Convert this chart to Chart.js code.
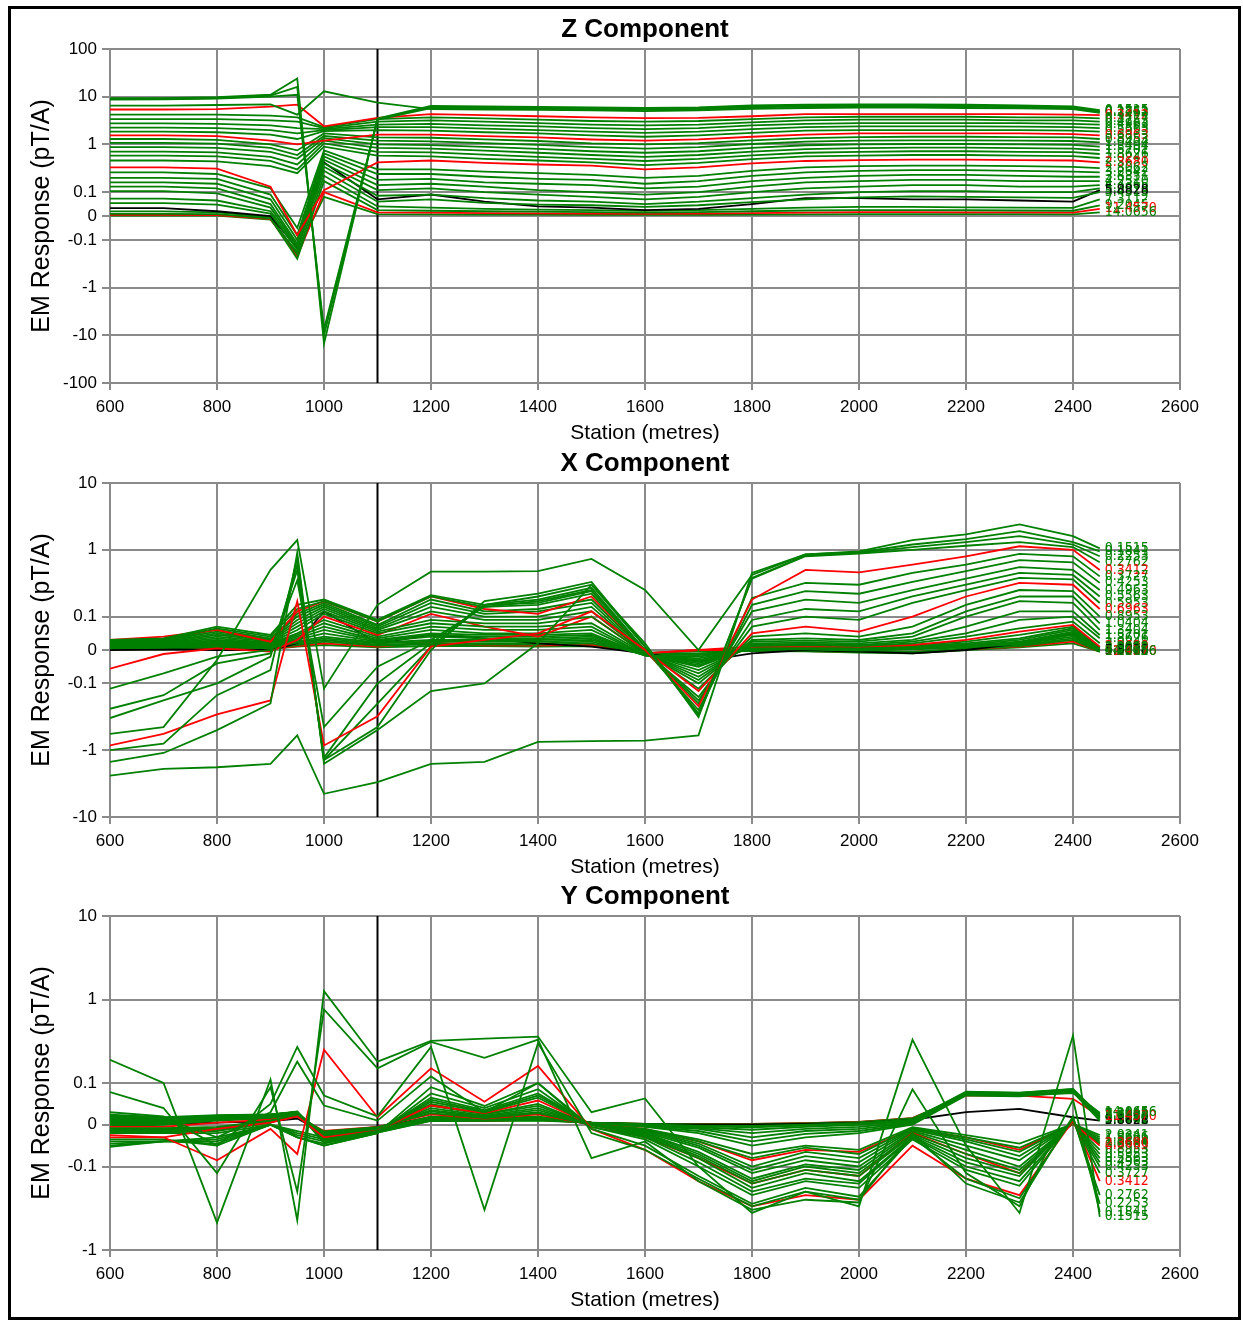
<!DOCTYPE html>
<html><head><meta charset="utf-8">
<script src="https://cdn.jsdelivr.net/npm/chart.js@4.4.1/dist/chart.umd.min.js"></script>
<style>
html,body{margin:0;padding:0;background:#fff;}
body{width:1243px;height:1321px;position:relative;overflow:hidden;}
#frame{position:absolute;left:8px;top:6px;width:1227px;height:1308px;border:3px solid #000;}
canvas{position:absolute;left:10px;width:1225px;height:434px;}
</style></head><body>
<div id="frame"></div>
<canvas id="cz" width="1225" height="434" style="top:12px"></canvas>
<canvas id="cx" width="1225" height="434" style="top:446px"></canvas>
<canvas id="cy" width="1225" height="434" style="top:879px"></canvas>
<script>
// ---------------- data ----------------
const STATIONS = [600,700,800,900,950,1000,1100,1200,1300,1400,1500,1600,1700,1800,1900,2000,2100,2200,2300,2400,2450];
const STATION_TICKS = [600,800,1000,1200,1400,1600,1800,2000,2200,2400,2600];
const MARKER_STATION = 1100;
const CHANNELS = ["0.1515","0.1841","0.2253","0.2762","0.3412","0.3727","0.4253","0.4963","0.5563","0.5953",
  "0.6963","0.8953","1.0404","1.3404","1.5701","1.8626","2.0241","2.3680","2.8062","3.2642",
  "3.8351","4.2510","4.7365","5.0078","5.4313","5.8828","7.3112","9.2045","11.4570","14.0656"];
const Z_TICKS = [100,10,1,0.1,0,-0.1,-1,-10,-100];
const X_TICKS = [10,1,0.1,0,-0.1,-1,-10];
const Y_TICKS = [10,1,0.1,0,-0.1,-1];

const Z_RESPONSE = [
[9.3,9.3,9.8,11,24,-15,3.5,6.4,6.3,6.1,6.0,5.8,6.0,6.6,6.8,6.9,6.9,6.8,6.6,6.3,5.2],
[9.0,9.0,9.4,10.5,16,-10,3.4,6.1,6.0,5.9,5.8,5.6,5.8,6.3,6.5,6.6,6.6,6.5,6.3,6.0,5.0],
[8.7,8.8,9.1,10,11,-7.5,3.3,5.8,5.7,5.6,5.5,5.3,5.5,6.0,6.2,6.3,6.3,6.2,6.0,5.8,4.8],
[6.5,6.5,6.7,6.9,4.2,13,7.5,5.5,5.4,5.3,5.2,5.0,5.2,5.6,5.8,5.9,5.9,5.8,5.7,5.5,4.6],
[5.4,5.4,5.5,6.2,6.8,2.4,3.6,4.3,4.1,3.9,3.7,3.55,3.6,3.9,4.3,4.3,4.3,4.3,4.3,4.2,4.1],
[4.2,4.2,4.2,4.0,3.7,2.3,3.4,3.7,3.5,3.3,3.1,3.0,3.1,3.4,3.7,3.8,3.8,3.8,3.7,3.7,3.5],
[3.4,3.4,3.4,3.2,3.0,2.2,3.0,3.2,3.0,2.8,2.6,2.5,2.6,2.9,3.2,3.3,3.3,3.3,3.2,3.2,3.0],
[2.75,2.75,2.7,2.5,2.2,2.1,2.6,2.7,2.5,2.4,2.2,2.1,2.2,2.5,2.7,2.8,2.8,2.8,2.8,2.7,2.6],
[2.25,2.25,2.2,2.0,1.7,2.0,2.3,2.3,2.15,2.0,1.85,1.75,1.85,2.1,2.3,2.4,2.4,2.4,2.35,2.3,2.2],
[1.86,1.85,1.8,1.6,1.3,1.9,2.0,1.95,1.8,1.7,1.55,1.45,1.55,1.75,1.95,2.0,2.0,2.0,2.0,1.95,1.85],
[1.55,1.55,1.5,1.2,1.0,1.2,1.6,1.6,1.5,1.4,1.27,1.2,1.28,1.45,1.6,1.7,1.7,1.7,1.7,1.65,1.55],
[1.3,1.3,1.25,1.0,0.75,1.7,1.4,1.38,1.28,1.18,1.05,1.0,1.07,1.22,1.36,1.42,1.45,1.45,1.42,1.4,1.3],
[1.08,1.08,1.04,0.85,0.6,1.5,1.2,1.16,1.07,0.98,0.88,0.82,0.88,1.02,1.15,1.2,1.22,1.22,1.2,1.18,1.1],
[0.88,0.88,0.85,0.7,0.5,1.35,1.0,0.97,0.89,0.81,0.72,0.67,0.72,0.85,0.96,1.0,1.02,1.02,1.0,0.98,0.9],
[0.71,0.71,0.68,0.55,0.38,1.2,0.85,0.82,0.74,0.67,0.6,0.55,0.6,0.71,0.8,0.84,0.86,0.86,0.84,0.82,0.76],
[0.58,0.58,0.56,0.45,0.3,1.05,0.7,0.68,0.61,0.55,0.5,0.45,0.5,0.59,0.67,0.7,0.72,0.72,0.7,0.69,0.63],
[0.46,0.46,0.44,0.35,0.25,0.9,0.58,0.56,0.5,0.46,0.42,0.37,0.41,0.49,0.56,0.58,0.6,0.6,0.58,0.57,0.52],
[0.33,0.33,0.31,0.13,-0.08,0.11,0.42,0.46,0.41,0.38,0.36,0.3,0.33,0.4,0.45,0.47,0.48,0.48,0.47,0.46,0.42],
[0.26,0.26,0.24,0.12,-0.05,0.75,0.3,0.3,0.27,0.25,0.23,0.2,0.22,0.28,0.33,0.35,0.36,0.36,0.35,0.34,0.32],
[0.20,0.20,0.19,0.09,-0.08,0.65,0.24,0.24,0.21,0.19,0.18,0.15,0.17,0.22,0.26,0.28,0.29,0.29,0.28,0.27,0.26],
[0.16,0.16,0.15,0.07,-0.1,0.56,0.18,0.19,0.16,0.15,0.14,0.12,0.13,0.17,0.2,0.22,0.23,0.23,0.22,0.21,0.21],
[0.13,0.13,0.12,0.05,-0.12,0.48,0.14,0.15,0.13,0.11,0.1,0.09,0.1,0.13,0.16,0.17,0.18,0.18,0.17,0.17,0.17],
[0.105,0.105,0.095,0.035,-0.13,0.4,0.11,0.12,0.1,0.09,0.08,0.07,0.08,0.1,0.12,0.13,0.14,0.14,0.13,0.13,0.14],
[0.073,0.073,0.065,0.02,-0.14,0.34,0.085,0.09,0.075,0.065,0.06,0.05,0.06,0.075,0.09,0.1,0.105,0.105,0.1,0.1,0.12],
[0.054,0.054,0.048,0.01,-0.16,0.28,0.06,0.07,0.055,0.048,0.045,0.038,0.045,0.058,0.07,0.078,0.082,0.08,0.078,0.076,0.1],
[0.033,0.033,0.02,0.0,-0.15,0.42,0.07,0.09,0.06,0.04,0.035,0.025,0.03,0.05,0.075,0.075,0.07,0.07,0.065,0.06,0.11],
[0.019,0.019,0.015,-0.005,-0.2,0.22,0.04,0.035,0.03,0.027,0.025,0.022,0.025,0.03,0.035,0.038,0.038,0.036,0.035,0.034,0.07],
[0.009,0.009,0.008,-0.01,-0.25,0.17,0.025,0.022,0.02,0.018,0.016,0.014,0.016,0.02,0.023,0.025,0.025,0.024,0.023,0.022,0.045],
[0.005,0.005,0.004,-0.012,-0.22,0.1,0.015,0.014,0.012,0.011,0.01,0.009,0.01,0.012,0.014,0.016,0.016,0.015,0.015,0.014,0.03],
[0.002,0.002,0.002,-0.015,-0.18,0.08,0.008,0.007,0.006,0.006,0.005,0.005,0.005,0.006,0.007,0.008,0.008,0.008,0.008,0.007,0.015]
];

const X_RESPONSE = [
[-2.4,-1.9,-1.8,-1.6,-0.6,-4.5,-3.0,-1.6,-1.5,-0.75,-0.73,-0.72,-0.6,0.45,0.85,0.95,1.4,1.7,2.4,1.6,1.05],
[-0.57,-0.45,-0.03,0.5,1.4,-0.12,0.15,0.47,0.47,0.48,0.73,0.25,0.0,0.42,0.85,0.92,1.2,1.45,1.9,1.3,0.95],
[-1.5,-1.1,-0.5,-0.2,0.9,-1.6,-0.5,-0.13,-0.1,0.02,0.3,0.02,-0.32,0.38,0.82,0.9,1.1,1.3,1.6,1.2,0.8],
[-1.0,-0.8,-0.15,-0.06,0.75,-1.4,-0.45,0.0,0.17,0.22,0.33,0.01,-0.3,0.37,0.8,0.88,1.0,1.15,1.3,1.1,0.65],
[-0.85,-0.57,-0.29,-0.18,0.17,-0.85,-0.31,0.01,0.03,0.05,0.12,0.0,-0.22,0.18,0.5,0.46,0.6,0.8,1.13,1.0,0.5],
[-0.33,-0.18,-0.1,-0.02,0.6,-1.4,-0.2,0.01,0.15,0.2,0.3,0.01,-0.28,0.19,0.32,0.3,0.45,0.6,0.87,0.8,0.4],
[-0.24,-0.15,-0.04,-0.01,0.5,-1.3,-0.1,0.02,0.15,0.18,0.27,0.0,-0.25,0.15,0.24,0.22,0.33,0.48,0.7,0.65,0.32],
[-0.12,-0.07,-0.02,0.0,0.35,-0.45,-0.05,0.03,0.14,0.17,0.25,0.0,-0.2,0.12,0.18,0.16,0.25,0.37,0.55,0.5,0.25],
[0.03,0.035,0.07,0.045,0.15,0.18,0.09,0.21,0.15,0.16,0.24,0.0,-0.18,0.09,0.13,0.12,0.2,0.3,0.45,0.42,0.2],
[0.028,0.033,0.065,0.04,0.13,0.17,0.085,0.2,0.14,0.15,0.22,-0.005,-0.16,0.07,0.1,0.09,0.16,0.25,0.38,0.36,0.16],
[0.03,0.04,0.06,0.025,0.12,0.17,0.085,0.2,0.13,0.11,0.2,0.0,-0.13,0.05,0.07,0.055,0.1,0.2,0.32,0.3,0.13],
[0.025,0.03,0.06,0.035,0.11,0.16,0.075,0.18,0.12,0.13,0.18,-0.005,-0.12,0.04,0.05,0.04,0.07,0.15,0.25,0.24,0.1],
[0.022,0.028,0.055,0.032,0.1,0.15,0.07,0.16,0.11,0.12,0.16,-0.01,-0.1,0.03,0.035,0.03,0.05,0.12,0.2,0.2,0.08],
[0.02,0.025,0.05,0.03,0.09,0.14,0.065,0.14,0.1,0.1,0.14,-0.01,-0.09,0.025,0.028,0.025,0.04,0.1,0.17,0.16,0.06],
[0.018,0.022,0.045,0.028,0.08,0.13,0.06,0.12,0.09,0.09,0.12,-0.01,-0.08,0.02,0.022,0.02,0.03,0.07,0.12,0.12,0.045],
[0.016,0.02,0.04,0.025,0.07,0.12,0.055,0.09,0.08,0.08,0.1,-0.012,-0.07,0.015,0.018,0.015,0.025,0.05,0.09,0.1,0.035],
[0.014,0.018,0.035,0.022,0.06,0.11,0.05,0.08,0.07,0.07,0.08,-0.012,-0.06,0.012,0.015,0.012,0.02,0.04,0.065,0.085,0.02],
[-0.056,-0.012,0.005,-0.005,0.03,0.1,0.045,0.11,0.07,0.04,0.1,-0.01,0.0,0.01,0.012,0.01,0.015,0.03,0.055,0.075,0.01],
[0.012,0.015,0.03,0.02,0.05,0.09,0.04,0.07,0.06,0.06,0.07,-0.015,-0.05,0.01,0.012,0.01,0.015,0.025,0.045,0.07,0.008],
[0.01,0.013,0.026,0.018,0.045,0.08,0.035,0.06,0.05,0.05,0.06,-0.015,-0.045,0.008,0.01,0.008,0.012,0.02,0.035,0.065,0.006],
[0.009,0.012,0.023,0.016,0.04,0.07,0.03,0.05,0.045,0.045,0.05,-0.015,-0.04,0.006,0.008,0.006,0.01,0.016,0.03,0.06,0.004],
[0.008,0.01,0.02,0.014,0.035,0.06,0.028,0.045,0.04,0.04,0.045,-0.015,-0.035,0.005,0.006,0.004,0.008,0.014,0.025,0.055,0.002],
[0.007,0.009,0.018,0.012,0.03,0.05,0.025,0.04,0.035,0.035,0.04,-0.016,-0.03,0.004,0.004,0.002,0.006,0.012,0.022,0.05,0.0],
[0.006,0.008,0.015,0.01,0.025,0.04,0.022,0.03,0.03,0.03,0.035,-0.016,-0.025,0.003,0.003,0.0,0.004,0.01,0.02,0.045,-0.002],
[0.005,0.007,0.012,0.008,0.022,0.035,0.02,0.025,0.025,0.025,0.03,-0.016,-0.02,0.002,0.002,-0.002,0.002,0.008,0.018,0.04,-0.003],
[0.0,0.002,0.0,0.0,0.02,0.12,0.02,0.045,0.035,0.02,0.01,-0.01,-0.035,-0.01,0.0,-0.005,-0.01,0.0,0.02,0.05,0.0],
[0.004,0.005,0.01,0.006,0.018,0.03,0.016,0.02,0.02,0.02,0.025,-0.014,-0.015,0.0,0.0,-0.004,-0.006,0.005,0.015,0.035,-0.004],
[0.003,0.004,0.008,0.005,0.015,0.025,0.013,0.017,0.016,0.016,0.02,-0.012,-0.01,-0.002,-0.003,-0.006,-0.008,0.003,0.012,0.03,-0.005],
[0.002,0.003,0.006,0.004,0.012,0.02,0.01,0.023,0.014,0.013,0.016,-0.01,0.0,0.0,-0.003,-0.005,-0.006,0.002,0.01,0.025,-0.004],
[0.001,0.002,0.004,0.003,0.01,0.015,0.008,0.012,0.012,0.01,0.012,-0.008,-0.005,-0.003,-0.004,-0.008,-0.01,0.0,0.008,0.02,-0.005]
];

const Y_RESPONSE = [
[0.19,0.1,-0.47,0.11,-0.44,1.26,0.18,0.32,0.34,0.36,0.03,0.063,-0.1,-0.36,-0.2,-0.3,0.33,-0.05,-0.36,0.37,-0.4],
[0.078,0.04,-0.12,0.09,-0.2,0.76,0.15,0.31,0.2,0.33,-0.08,-0.04,-0.15,-0.33,-0.25,-0.27,0.085,-0.12,-0.3,0.06,-0.35],
[0.03,0.02,-0.05,0.05,0.27,0.07,0.02,0.27,-0.33,0.3,-0.02,-0.06,-0.14,-0.3,-0.2,-0.25,-0.02,-0.16,-0.27,0.02,-0.28],
[0.02,0.015,-0.03,0.03,0.18,0.046,0.01,0.12,0.03,0.1,-0.01,-0.05,-0.13,-0.28,-0.18,-0.23,-0.03,-0.14,-0.24,0.015,-0.22],
[-0.025,-0.03,-0.085,-0.01,-0.07,0.25,0.018,0.15,0.055,0.16,-0.01,-0.06,-0.15,-0.3,-0.22,-0.25,-0.05,-0.14,-0.22,0.01,-0.15],
[-0.035,-0.035,-0.05,0.0,-0.03,-0.05,-0.02,0.09,0.045,0.1,-0.005,-0.035,-0.1,-0.22,-0.15,-0.18,-0.035,-0.11,-0.17,0.01,-0.12],
[-0.04,-0.04,-0.045,0.0,-0.03,-0.05,-0.02,0.075,0.04,0.085,-0.005,-0.03,-0.09,-0.2,-0.14,-0.16,-0.03,-0.1,-0.15,0.008,-0.1],
[-0.045,-0.04,-0.04,0.0,-0.03,-0.045,-0.018,0.065,0.035,0.075,0.0,-0.028,-0.08,-0.18,-0.12,-0.15,-0.028,-0.09,-0.13,0.008,-0.09],
[-0.05,-0.04,-0.035,0.0,-0.025,-0.04,-0.016,0.06,0.032,0.07,0.0,-0.025,-0.075,-0.16,-0.11,-0.13,-0.025,-0.08,-0.12,0.006,-0.08],
[-0.053,-0.04,-0.03,0.0,-0.02,-0.035,-0.015,0.055,0.03,0.065,0.0,-0.022,-0.07,-0.15,-0.1,-0.12,-0.022,-0.07,-0.11,0.005,-0.07],
[-0.03,-0.03,-0.01,0.005,0.02,-0.03,-0.014,0.046,0.028,0.058,0.0,-0.03,-0.08,-0.16,-0.11,-0.13,-0.02,-0.07,-0.12,0.004,-0.05],
[-0.02,-0.02,-0.02,0.0,-0.015,-0.03,-0.012,0.05,0.026,0.05,0.0,-0.02,-0.065,-0.14,-0.095,-0.11,-0.018,-0.06,-0.1,0.004,-0.06],
[-0.018,-0.018,-0.015,0.005,0.03,-0.025,-0.01,0.045,0.025,0.045,0.0,-0.018,-0.055,-0.12,-0.085,-0.1,-0.015,-0.05,-0.085,0.003,-0.045],
[-0.015,-0.015,-0.012,0.005,0.025,-0.022,-0.009,0.04,0.022,0.04,0.0,-0.015,-0.05,-0.11,-0.075,-0.09,-0.012,-0.04,-0.075,0.003,-0.04],
[-0.012,-0.012,-0.01,0.008,0.025,-0.02,-0.008,0.035,0.02,0.035,0.0,-0.013,-0.045,-0.1,-0.065,-0.08,-0.01,-0.035,-0.065,0.002,-0.035],
[-0.01,-0.01,-0.008,0.01,0.022,-0.018,-0.007,0.032,0.018,0.03,0.0,-0.011,-0.04,-0.08,-0.055,-0.07,-0.008,-0.03,-0.055,0.002,-0.03],
[-0.008,-0.008,-0.005,0.01,0.02,-0.016,-0.006,0.028,0.016,0.028,0.0,-0.01,-0.035,-0.07,-0.05,-0.06,-0.006,-0.025,-0.045,0.002,-0.025],
[-0.005,-0.005,0.005,0.012,0.02,-0.015,-0.005,0.025,0.015,0.025,0.0,-0.01,-0.04,-0.085,-0.06,-0.065,-0.01,-0.03,-0.06,0.002,-0.045],
[-0.003,0.0,0.01,0.015,0.022,-0.025,-0.01,0.02,0.015,0.02,0.003,-0.005,-0.02,-0.05,-0.03,-0.02,0.0,0.07,0.068,0.078,0.01],
[0.0,0.002,0.012,0.017,0.024,-0.028,-0.011,0.018,0.014,0.018,0.003,-0.004,-0.015,-0.04,-0.022,-0.015,0.002,0.072,0.07,0.08,0.012],
[0.003,0.004,0.014,0.019,0.026,-0.03,-0.012,0.016,0.013,0.017,0.003,-0.003,-0.01,-0.03,-0.015,-0.01,0.004,0.074,0.072,0.082,0.015],
[0.006,0.006,0.016,0.021,0.028,-0.032,-0.013,0.015,0.012,0.016,0.004,-0.002,-0.008,-0.02,-0.01,-0.005,0.006,0.076,0.074,0.083,0.017],
[0.009,0.008,0.018,0.022,0.03,-0.034,-0.014,0.014,0.012,0.015,0.004,-0.001,-0.006,-0.012,-0.005,0.0,0.008,0.077,0.075,0.084,0.019],
[0.012,0.01,0.019,0.023,0.031,-0.036,-0.015,0.013,0.011,0.014,0.004,0.0,-0.004,-0.006,-0.002,0.002,0.01,0.078,0.076,0.085,0.021],
[0.015,0.012,0.02,0.024,0.032,-0.038,-0.016,0.012,0.011,0.013,0.005,0.001,-0.002,-0.003,0.0,0.004,0.012,0.079,0.077,0.086,0.023],
[0.0,0.002,0.005,0.008,0.015,-0.02,-0.005,0.018,0.016,0.015,0.005,0.0,0.0,0.0,0.002,0.004,0.012,0.03,0.038,0.018,0.01],
[0.018,0.014,0.021,0.024,0.03,-0.04,-0.017,0.011,0.01,0.012,0.005,0.002,0.0,0.0,0.002,0.005,0.014,0.075,0.074,0.08,0.025],
[0.021,0.016,0.022,0.025,0.03,-0.042,-0.018,0.01,0.01,0.011,0.005,0.002,0.001,0.001,0.003,0.006,0.015,0.073,0.072,0.078,0.027],
[0.015,0.01,0.02,0.022,0.028,-0.035,-0.015,0.012,0.01,0.012,0.005,0.002,0.002,0.002,0.004,0.007,0.016,0.07,0.07,0.062,0.02],
[0.024,0.018,0.023,0.025,0.03,-0.044,-0.019,0.009,0.009,0.01,0.005,0.002,0.002,0.002,0.004,0.007,0.016,0.072,0.07,0.076,0.029]
];

// ---------------- styling / rendering ----------------
const FONT = "'Liberation Sans', Arial, sans-serif";
const GRID = '#8a8a8a';
const RED_IDX = new Set([4,10,17,28]);
const BLACK_IDX = 25;
function colorFor(i){ if (i === BLACK_IDX) return '#000000'; return RED_IDX.has(i) ? '#ff0000' : '#008000'; }

// symmetric log transform: linear within +-0.1 (half a decade each side), log outside
const LIN = 0.1;
function symT(v){ const a = Math.abs(v); if (a <= LIN) return v / LIN * 0.5; return Math.sign(v) * (0.5 + Math.log10(a / LIN)); }
function symInv(t){ const a = Math.abs(t); if (a <= 0.5) return t * 2 * LIN; return Math.sign(t) * LIN * Math.pow(10, a - 0.5); }
const TICKS_BY_CANVAS = {};

class SymLogScale extends Chart.LinearScale {
  buildTicks(){ return TICKS_BY_CANVAS[this.chart.canvas.id].map(v => ({value: v})); }
  configure(){ super.configure(); this._tMin = symT(this.min); this._tMax = symT(this.max); }
  getPixelForValue(v){ return this.getPixelForDecimal((symT(v) - this._tMin) / (this._tMax - this._tMin)); }
  getValueForPixel(p){ const d = this.getDecimalForPixel(p); return symInv(this._tMin + d * (this._tMax - this._tMin)); }
}
SymLogScale.id = 'symlog';
Chart.register(SymLogScale);

Chart.defaults.font.family = FONT;
Chart.defaults.color = '#000';

const textPlugin = (title) => ({
  id: 'texts',
  afterDraw(chart){
    const {ctx, chartArea: a} = chart;
    const cx = (a.left + a.right) / 2;
    ctx.save();
    ctx.fillStyle = '#000';
    ctx.textAlign = 'center'; ctx.textBaseline = 'middle';
    ctx.font = 'bold 26px ' + FONT;
    ctx.fillText(title, cx, 18);
    ctx.font = '21px ' + FONT;
    ctx.fillText('Station (metres)', cx, a.bottom + 50);
    ctx.translate(32, (a.top + a.bottom) / 2);
    ctx.rotate(-Math.PI / 2);
    ctx.font = '25px ' + FONT;
    ctx.fillText('EM Response (pT/A)', 0, 0);
    ctx.restore();
  }
});

const markerPlugin = {
  id: 'marker',
  beforeDatasetsDraw(chart){
    const {ctx, chartArea: a} = chart;
    const x = chart.scales.x.getPixelForValue(MARKER_STATION);
    ctx.save();
    ctx.strokeStyle = '#000'; ctx.lineWidth = 2;
    ctx.beginPath(); ctx.moveTo(x, a.top); ctx.lineTo(x, a.bottom); ctx.stroke();
    ctx.restore();
  }
};

const endLabelPlugin = {
  id: 'endLabels',
  afterDatasetsDraw(chart){
    const ctx = chart.ctx;
    ctx.save();
    ctx.font = "14px 'Liberation Sans Narrow', 'DejaVu Sans Condensed', " + FONT;
    ctx.textAlign = 'left'; ctx.textBaseline = 'middle';
    chart.data.datasets.forEach((ds, i) => {
      const meta = chart.getDatasetMeta(i);
      const pt = meta.data[meta.data.length - 1];
      ctx.fillStyle = ds.borderColor;
      ctx.fillText(ds.label, pt.x + 5, pt.y);
    });
    ctx.restore();
  }
};

function makeChart(id, title, values, yTicks){
  TICKS_BY_CANVAS[id] = yTicks;
  const datasets = values.map((row, i) => ({
    label: CHANNELS[i],
    data: row.map((v, j) => ({x: STATIONS[j], y: v})),
    borderColor: colorFor(i),
    borderWidth: 1.8,
    pointRadius: 0,
    fill: false,
    tension: 0
  }));
  new Chart(document.getElementById(id), {
    type: 'line',
    data: {datasets},
    options: {
      responsive: false, animation: false, devicePixelRatio: 1,
      layout: {padding: {left: 0, top: 37, right: 55, bottom: 0}},
      plugins: {legend: {display: false}, tooltip: {enabled: false}, title: {display: false}},
      scales: {
        x: {
          type: 'linear', min: STATION_TICKS[0], max: STATION_TICKS[STATION_TICKS.length - 1],
          afterBuildTicks: s => { s.ticks = STATION_TICKS.map(v => ({value: v})); },
          ticks: {autoSkip: false, maxRotation: 0, padding: 7, font: {size: 17}, callback: v => String(v)},
          grid: {color: GRID, lineWidth: 2, tickLength: 7},
          border: {display: true, color: GRID, width: 2},
          afterFit: s => { s.height = 63; s.paddingLeft = 0; s.paddingRight = 0; }
        },
        y: {
          type: 'symlog', min: yTicks[yTicks.length - 1], max: yTicks[0],
          ticks: {autoSkip: false, padding: 5, font: {size: 17}, callback: v => String(v)},
          grid: {color: GRID, lineWidth: 2, tickLength: 8},
          border: {display: true, color: GRID, width: 2},
          afterFit: s => { s.width = 100; s.paddingTop = 0; s.paddingBottom = 0; }
        }
      }
    },
    plugins: [textPlugin(title), markerPlugin, endLabelPlugin]
  });
}

makeChart('cz', 'Z Component', Z_RESPONSE, Z_TICKS);
makeChart('cx', 'X Component', X_RESPONSE, X_TICKS);
makeChart('cy', 'Y Component', Y_RESPONSE, Y_TICKS);
</script>
</body></html>
